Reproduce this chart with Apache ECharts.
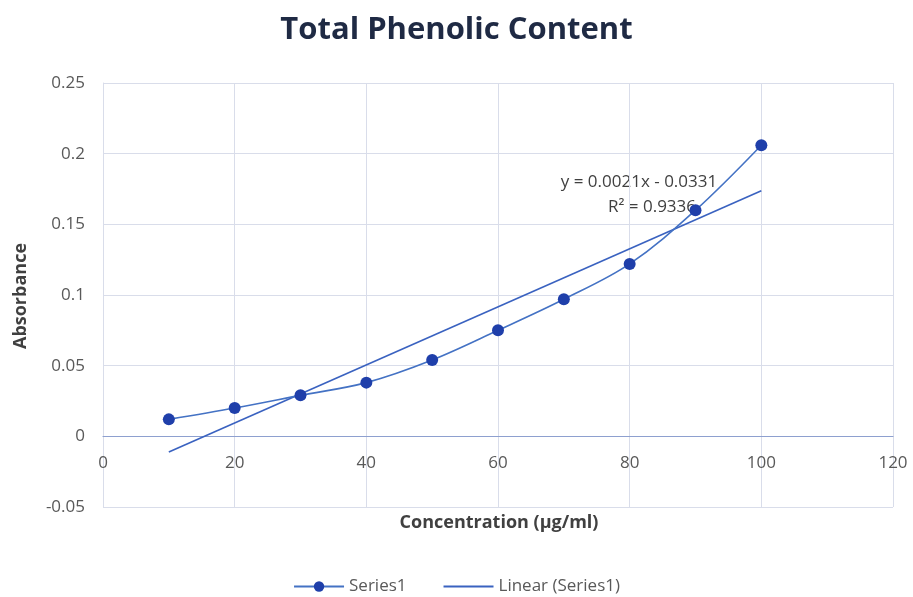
<!DOCTYPE html>
<html><head><meta charset="utf-8">
<script src="https://cdn.jsdelivr.net/npm/echarts@6/dist/echarts.min.js"></script>
<style>html,body{margin:0;padding:0;background:#fff}#c{width:913px;height:597px}</style>
</head><body><div id="c"></div>
<script>
const concentrations = [10, 20, 30, 40, 50, 60, 70, 80, 90, 100];
const absorbance = [0.012, 0.020, 0.029, 0.038, 0.054, 0.075, 0.097, 0.122, 0.160, 0.206];
const xTicks = [0, 20, 40, 60, 80, 100, 120];
const yTicks = [-0.05, 0, 0.05, 0.1, 0.15, 0.2, 0.25];
const equationText = 'y = 0.0021x - 0.0331';
const r2Text = 'R² = 0.9336';

// least-squares trendline from data
const n = concentrations.length;
const mx = concentrations.reduce((a,b)=>a+b,0)/n;
const my = absorbance.reduce((a,b)=>a+b,0)/n;
let sxy=0, sxx=0;
for (let i=0;i<n;i++){ sxy+=(concentrations[i]-mx)*(absorbance[i]-my); sxx+=(concentrations[i]-mx)**2; }
const slope = sxy/sxx, icpt = my - slope*mx;
const xMin = Math.min(...concentrations), xMax = Math.max(...concentrations);
const trend = [[xMin, slope*xMin+icpt],[xMax, slope*xMax+icpt]];

const font = 'Open Sans, Lato, sans-serif';
const gridTop = 83, gridBottomPx = 507;
const yMin = yTicks[0], yMax = yTicks[yTicks.length-1];
const zeroOffset = (0 - yMin)/(yMax - yMin)*(gridBottomPx - gridTop);

const chart = echarts.init(document.getElementById('c'));
chart.setOption({
  animation:false,
  backgroundColor:'#fff',
  title:{text:'Total Phenolic Content', left:'center', top:10,
    textStyle:{fontFamily:font, fontSize:31, fontWeight:'bold', color:'#1F2A44'}},
  grid:{left:103, right:20, top:gridTop, bottom:597-gridBottomPx},
  xAxis:{type:'value', min:xTicks[0], max:xTicks[xTicks.length-1], interval:20,
    position:'bottom', offset:-zeroOffset,
    axisLine:{show:true, onZero:false, lineStyle:{color:'#8EA0CF', width:1.2}},
    axisTick:{show:false},
    axisLabel:{fontFamily:font, fontSize:17, color:'#595959', margin:18},
    splitLine:{show:true, lineStyle:{color:'#D9DDEA', width:1}}},
  yAxis:{type:'value', min:yMin, max:yMax, interval:0.05,
    axisLine:{show:true, lineStyle:{color:'#D9DDEA'}},
    axisTick:{show:false},
    axisLabel:{fontFamily:font, fontSize:17, color:'#595959', margin:18,
      formatter:v=>String(Math.round(v*100)/100)},
    splitLine:{show:true, lineStyle:{color:'#D9DDEA', width:1}}},
  legend:{top:573, left:'center', itemGap:36, itemWidth:50, itemHeight:13,
    textStyle:{fontFamily:font, fontSize:17, color:'#595959'},
    data:['Series1', {name:'Linear (Series1)', itemStyle:{opacity:0}}]},
  graphic:[
    {type:'text', x:499, y:523, style:{text:'Concentration (μg/ml)', font:'bold 18px '+font, fill:'#404040', textAlign:'center', textVerticalAlign:'middle'}},
    {type:'text', x:21, y:296, rotation:Math.PI/2, style:{text:'Absorbance', font:'bold 18px '+font, fill:'#404040', textAlign:'center', textVerticalAlign:'middle'}},
    {type:'text', x:639, y:182, style:{text:equationText, font:'17px '+font, fill:'#404040', textAlign:'center', textVerticalAlign:'middle'}},
    {type:'text', x:652, y:207, style:{text:r2Text, font:'17px '+font, fill:'#404040', textAlign:'center', textVerticalAlign:'middle'}}
  ],
  series:[
    {name:'Series1', type:'line', smooth:0.35, data:concentrations.map((x,i)=>[x,absorbance[i]]),
      symbol:'circle', symbolSize:12, itemStyle:{color:'#1F3FAA'},
      lineStyle:{color:'#4472C4', width:1.6}, z:3},
    {name:'Linear (Series1)', type:'line', data:trend, symbol:'none',
      itemStyle:{color:'#3A62C0'}, lineStyle:{color:'#3A62C0', width:1.6}, z:2}
  ]
});
</script></body></html>
